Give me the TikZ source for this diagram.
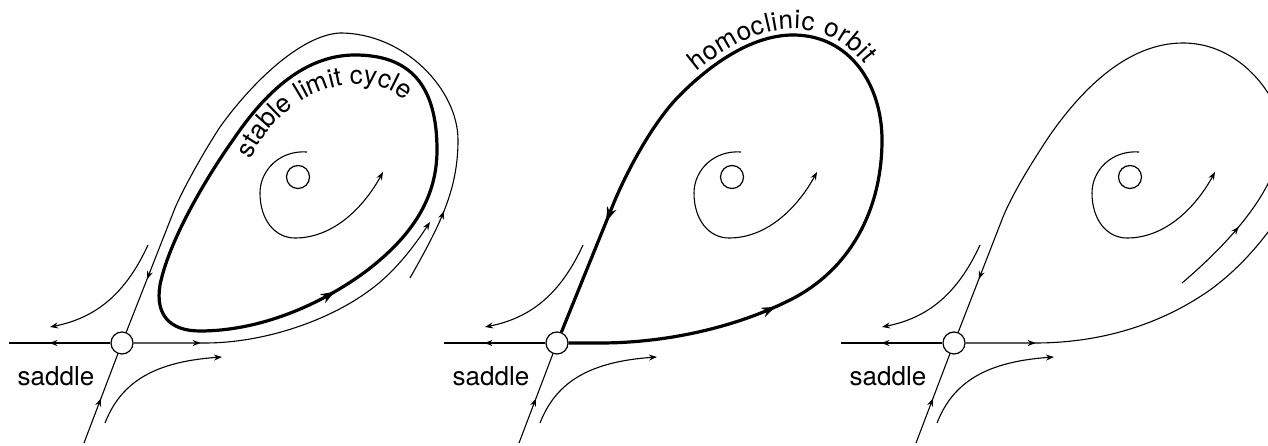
\documentclass[tikz,border=0pt]{standalone}
\usepackage{fontspec}
\setmainfont{TeX Gyre Heros}
\usetikzlibrary{arrows.meta,decorations.markings,decorations.text,calc}
\newcommand\lblfont{\fontsize{26}{31}\selectfont}
\tikzset{
  arr/.tip={Stealth[length=8pt,width=6pt]},
  bigarr/.tip={Stealth[length=14pt,width=10pt]},
  traj/.style={line width=1.1pt},
  orbit/.style={line width=3.2pt},
  flowat/.style={postaction={decorate,decoration={markings,mark=at position #1 with {\arrow{arr}}}}},
  bigflowat/.style={postaction={decorate,decoration={markings,mark=at position #1 with {\arrow{bigarr}}}}},
  saddle/.style={circle,draw,line width=1.2pt,fill=white,minimum size=22pt,inner sep=0pt},
  focus/.style={circle,draw,line width=1.2pt,fill=white,minimum size=23pt,inner sep=0pt},
  lbl/.style={font=\lblfont,inner sep=0pt}
}
\begin{document}
\begin{tikzpicture}[x=1pt,y=-1pt]
\useasboundingbox (0,0) rectangle (1268,446);
\clip (0,0) rectangle (1268,446);

% ---------- saddles, foci and their neighbourhoods ----------
\foreach \i/\sx/\fx in {1/122/298,2/557/732,3/954/1130}{
  \node[saddle] (s\i) at (\sx,343) {};
  \node[focus] (f\i) at (\fx,177) {};
  \node[lbl] (lab\i) at ($(s\i)+(-66,33)$) {saddle};
  \coordinate (w\i) at ($(s\i)+(-113,0)$);
  \coordinate (b\i) at ($(s\i)+(-38,100)$);
  \coordinate (ha\i) at ($(s\i)+(26,-98)$);
  \coordinate (hb\i) at ($(s\i)+(-72,-16)$);
  \coordinate (hc\i) at ($(s\i)+(-17,80)$);
  \coordinate (hd\i) at ($(s\i)+(100,14)$);
  \draw[traj,flowat=61pt] (s\i) -- (w\i);
  \draw[traj,flowat=0.5] (b\i) -- (s\i);
  \draw[traj,-{arr}] (ha\i) .. controls +(-23,50) and +(45,-9) .. (hb\i);
  \draw[traj,-{arr}] (hc\i) .. controls +(15,-38) and +(-72,5) .. (hd\i);
  \begin{scope}[shift={(f\i)}]
    \draw[traj,-{arr}] (9,-25) .. controls (-18,-27) and (-38,-7) .. (-38,16)
      .. controls (-38,43) and (-23,61) .. (-3,61)
      .. controls (37,61) and (67,28) .. (85,-5);
  \end{scope}
}

% ---------- panel 1: stable limit cycle ----------
\coordinate (p1a) at (410,278);
\coordinate (p1b) at (430,222);
\draw[traj,flowat=75pt,flowat=-57pt] (p1a) .. controls (440,225) and (458,190) .. (458,140)
  .. controls (458,90) and (405,33) .. (340,33)
  .. controls (300,35) and (250,85) .. (220,127)
  .. controls (205,150) and (185,185) .. (175,208) -- (s1);
\draw[traj,flowat=67pt,-{arr}] (s1) -- (205,343)
  .. controls (265,343) and (330,320) .. (370,290)
  .. controls (395,272) and (415,245) .. (p1b);
\draw[orbit,bigflowat=142pt] (200,331) .. controls (260,331) and (320,305) .. (365,272)
  .. controls (410,238) and (437,200) .. (437,150)
  .. controls (437,85) and (410,55) .. (355,55)
  .. controls (300,55) and (260,100) .. (233,140)
  .. controls (215,165) and (170,235) .. (160,285)
  .. controls (155,315) and (170,331) .. (200,331) -- cycle;
\path[decorate,decoration={text along path,text={|\lblfont|stable limit cycle},text align={left indent=1pt}}]
  (250,160) .. controls (275,110) and (315,85) .. (360,84)
  .. controls (385,84) and (405,95) .. (430,125);

% ---------- panel 2: homoclinic orbit ----------
\draw[orbit,bigflowat=212pt,bigflowat=-120pt] (s2) -- (600,343)
  .. controls (660,343) and (730,330) .. (790,300)
  .. controls (850,270) and (882,210) .. (882,140)
  .. controls (882,85) and (850,35) .. (793,35)
  .. controls (755,35) and (715,60) .. (680,95)
  .. controls (655,120) and (630,165) .. (615,200) -- (s2);
\path[decorate,decoration={text along path,text={|\lblfont|homoclinic orbit},text align={left indent=28pt},raise=6pt}]
  (680,95) .. controls (715,60) and (755,35) .. (793,35)
  .. controls (850,35) and (882,85) .. (882,140);

% ---------- panel 3: after the bifurcation ----------
\coordinate (p3a) at (1182,283);
\draw[traj,flowat=70pt] (s3) -- (1035,343)
  .. controls (1100,343) and (1160,325) .. (1210,290)
  .. controls (1240,268) and (1265,240) .. (1290,200);
\draw[traj,flowat=80pt,flowat=-57pt] (p3a) .. controls (1215,255) and (1255,215) .. (1272,175)
  .. controls (1288,135) and (1282,108) .. (1268,93)
  .. controls (1250,65) and (1220,43) .. (1183,43)
  .. controls (1130,43) and (1085,85) .. (1050,135)
  .. controls (1030,165) and (1012,195) .. (1003,217) -- (s3);
\end{tikzpicture}
\end{document}
